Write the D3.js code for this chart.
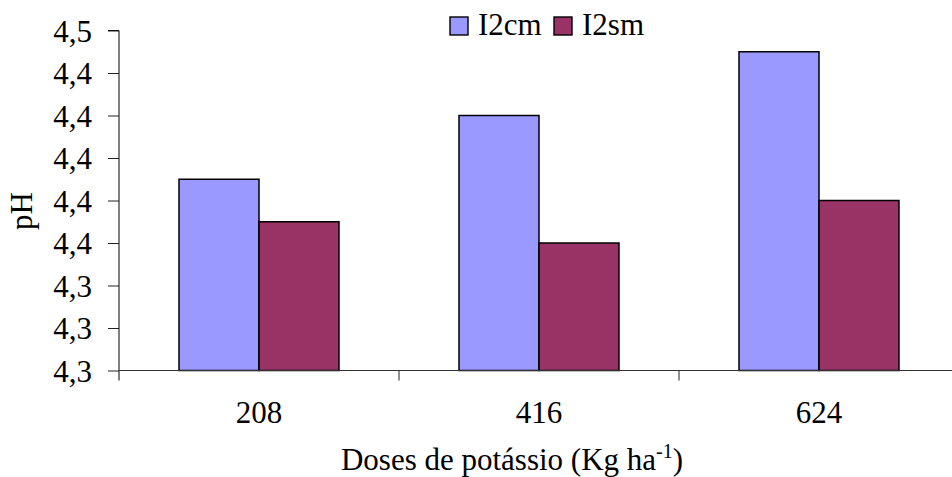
<!DOCTYPE html>
<html>
<head>
<meta charset="utf-8">
<script src="https://cdn.jsdelivr.net/npm/d3@7"></script>
<style>
  body { margin: 0; background: #fff; }
  svg text { font-family: "Liberation Serif", "Times New Roman", serif; fill: #000; }
</style>
</head>
<body>
<svg id="canvas" width="952" height="477"></svg>
<script>
'use strict';

/* chart data */
const doses = ['208', '416', '624'];
const seriesNames = ['I2cm', 'I2sm'];
const i2cm = [4.390, 4.420, 4.450];
const i2sm = [4.370, 4.360, 4.380];
const yTicks = [4.30, 4.32, 4.34, 4.36, 4.38, 4.40, 4.42, 4.44, 4.46];
const colors = ['#9999FF', '#993366'];

const width = 952, height = 477;
const margin = {top: 30.5, right: -7, bottom: 106.5, left: 119};
const fontSize = '31px';

const svg = d3.select('svg#canvas');

/* scales */
const x = d3.scaleBand()
  .domain(doses)
  .range([margin.left, width - margin.right])
  .paddingInner(0)
  .paddingOuter(0);

const y = d3.scaleLinear()
  .domain([yTicks[0], yTicks[yTicks.length - 1]])
  .range([height - margin.bottom, margin.top]);

/* bars: Excel-like gap width of 150% */
const barW = x.bandwidth() / (seriesNames.length + 1.5);
const rows = doses.map((d, i) => ({dose: d, values: [i2cm[i], i2sm[i]]}));

const groups = svg.append('g').attr('id', 'bars')
  .selectAll('g')
  .data(rows)
  .enter().append('g')
  .attr('transform', d => 'translate(' + (x(d.dose) + (x.bandwidth() - 2 * barW) / 2) + ',0)');

groups.selectAll('rect')
  .data(d => d.values)
  .enter().append('rect')
  .attr('x', (v, i) => i * barW)
  .attr('y', v => y(v))
  .attr('width', barW)
  .attr('height', v => y(yTicks[0]) - y(v))
  .attr('fill', (v, i) => colors[i])
  .attr('stroke', '#000')
  .attr('stroke-width', 1.5);

/* y axis */
const yAxis = d3.axisLeft(y)
  .tickValues(yTicks)
  .tickSize(11)
  .tickPadding(16)
  .tickFormat(v => d3.format('.1f')(v).replace('.', ','));

const gy = svg.append('g')
  .attr('id', 'left-axis')
  .attr('transform', 'translate(' + margin.left + ',0)')
  .call(yAxis);
gy.select('.domain').attr('d', 'M-11,' + y.range()[1] + 'H0V' + (y.range()[0] + 10));
gy.selectAll('line').attr('stroke', '#222');
gy.selectAll('text').style('font-size', fontSize).attr('dy', '0.34em');

/* x axis */
const xAxis = d3.axisBottom(x).tickSize(0);
const gx = svg.append('g')
  .attr('id', 'bottom-axis')
  .attr('transform', 'translate(0,' + y(yTicks[0]) + ')')
  .call(xAxis);
gx.select('.domain').attr('d', 'M' + margin.left + ',0H' + width).attr('stroke', '#333');
gx.selectAll('text').style('font-size', fontSize).attr('y', 52.5).attr('dy', 0);
/* category separators */
gx.selectAll('.sep')
  .data(doses.slice(1))
  .enter().append('line')
  .attr('class', 'sep')
  .attr('x1', d => x(d)).attr('x2', d => x(d))
  .attr('y1', 0).attr('y2', 10)
  .attr('stroke', '#222');

/* axis titles */
const title = svg.append('text')
  .attr('x', 512)
  .attr('y', 470)
  .style('text-anchor', 'middle')
  .style('font-size', fontSize);
title.append('tspan').text('Doses de potássio (Kg ha');
title.append('tspan').attr('dy', -12).style('font-size', '20px').text('-1');
title.append('tspan').attr('dy', 12).text(')');

svg.append('text')
  .attr('transform', 'rotate(-90)')
  .attr('x', -211)
  .attr('y', 32)
  .style('text-anchor', 'middle')
  .style('font-size', fontSize)
  .text('pH');

/* legend */
const legendX = [450, 554];
const legend = svg.append('g').attr('id', 'legend')
  .selectAll('g')
  .data(seriesNames)
  .enter().append('g')
  .attr('transform', (d, i) => 'translate(' + legendX[i] + ',17)');
legend.append('rect')
  .attr('width', 18).attr('height', 18)
  .attr('fill', (d, i) => colors[i])
  .attr('stroke', '#000').attr('stroke-width', 1.4);
legend.append('text')
  .attr('x', 28).attr('y', 18)
  .style('font-size', fontSize)
  .text(d => d);
</script>
</body>
</html>
